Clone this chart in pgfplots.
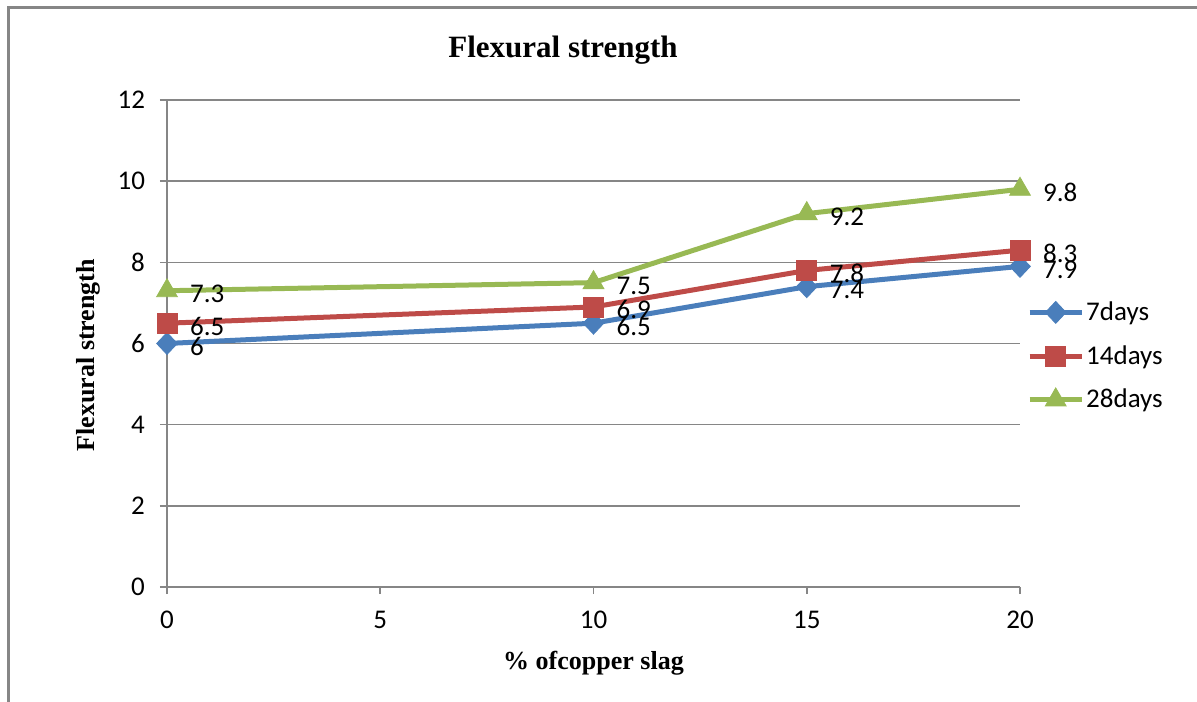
\documentclass[border=0pt]{standalone}
\usepackage{pgfplots}
\pgfplotsset{compat=1.18}
\usepackage{fontspec}
\setmainfont{Liberation Serif}
\newfontfamily\calibri{Carlito}
\definecolor{s1}{HTML}{4A7EBB}
\definecolor{s2}{HTML}{BE4B48}
\definecolor{s3}{HTML}{98B954}
\definecolor{gridc}{HTML}{868686}
\begin{document}
\begin{tikzpicture}
\useasboundingbox (-83.5pt,-57pt) rectangle (515pt,293.5pt);
\draw[gridc, line width=1.2pt] (-79.25pt,-60pt) -- (-79.25pt,289.75pt) -- (520pt,289.75pt);
\begin{axis}[
  at={(0,0)}, anchor=south west,
  scale only axis, width=426.5pt, height=243.5pt,
  xmin=0, xmax=20, ymin=0, ymax=12,
  xtick={0,5,...,20}, ytick={0,2,...,12},
  axis x line*=bottom, axis y line*=left,
  axis line style={gridc, line width=0.8pt, -},
  ymajorgrids, major grid style={gridc, line width=0.8pt},
  tick align=outside, major tick length=3.5pt,
  tick style={gridc, line width=0.8pt},
  ticklabel style={font=\calibri\fontsize{13.5}{15}\selectfont},
  yticklabel style={xshift=-4pt},
  xticklabel style={yshift=-5pt},
  /pgf/number format/assume math mode=true,
  clip=false,
  xlabel={\% ofcopper slag},
  ylabel={Flexural strength},
  xlabel style={at={(axis description cs:0.5,-0.156)}, anchor=center, font=\bfseries\fontsize{13}{15}\selectfont},
  ylabel style={at={(axis description cs:-0.0926,0.476)}, anchor=center, font=\bfseries\fontsize{13}{15}\selectfont},
  legend style={at={(axis description cs:1.008,0.474)}, anchor=west, draw=none, fill=none, inner sep=0pt,
    nodes={inner sep=1pt},
    font=\calibri\fontsize{13.5}{15}\selectfont, row sep=9pt},
  legend cell align=left,
  legend image code/.code={\draw[mark repeat=2,mark phase=2,#1] plot coordinates {(0pt,0pt) (13pt,0pt) (26pt,0pt)};},
  every axis plot/.append style={line width=2.5pt},
  nodes near coords,
  every node near coord/.append style={anchor=west, xshift=8pt, yshift=-1.5pt, text=black,
    font=\calibri\fontsize{13.5}{15}\selectfont},
]
\addplot[s1, mark=diamond*, mark size=5.5pt, mark options={solid, fill=s1, draw=s1, line width=0.4pt, xscale=1.25}]
  coordinates {(0,6) (10,6.5) (15,7.4) (20,7.9)};
\addlegendentry{7days}
\addplot[s2, mark=square*, mark size=5pt, mark options={solid, fill=s2, draw=s2, line width=0.4pt}]
  coordinates {(0,6.5) (10,6.9) (15,7.8) (20,8.3)};
\addlegendentry{14days}
\addplot[s3, mark=triangle*, mark size=6pt, mark options={solid, fill=s3, draw=s3, line width=0.4pt}]
  coordinates {(0,7.3) (10,7.5) (15,9.2) (20,9.8)};
\addlegendentry{28days}
\end{axis}
\node[font=\bfseries\fontsize{15.5}{18}\selectfont] at (198pt,268.5pt) {Flexural strength};
\end{tikzpicture}
\end{document}
